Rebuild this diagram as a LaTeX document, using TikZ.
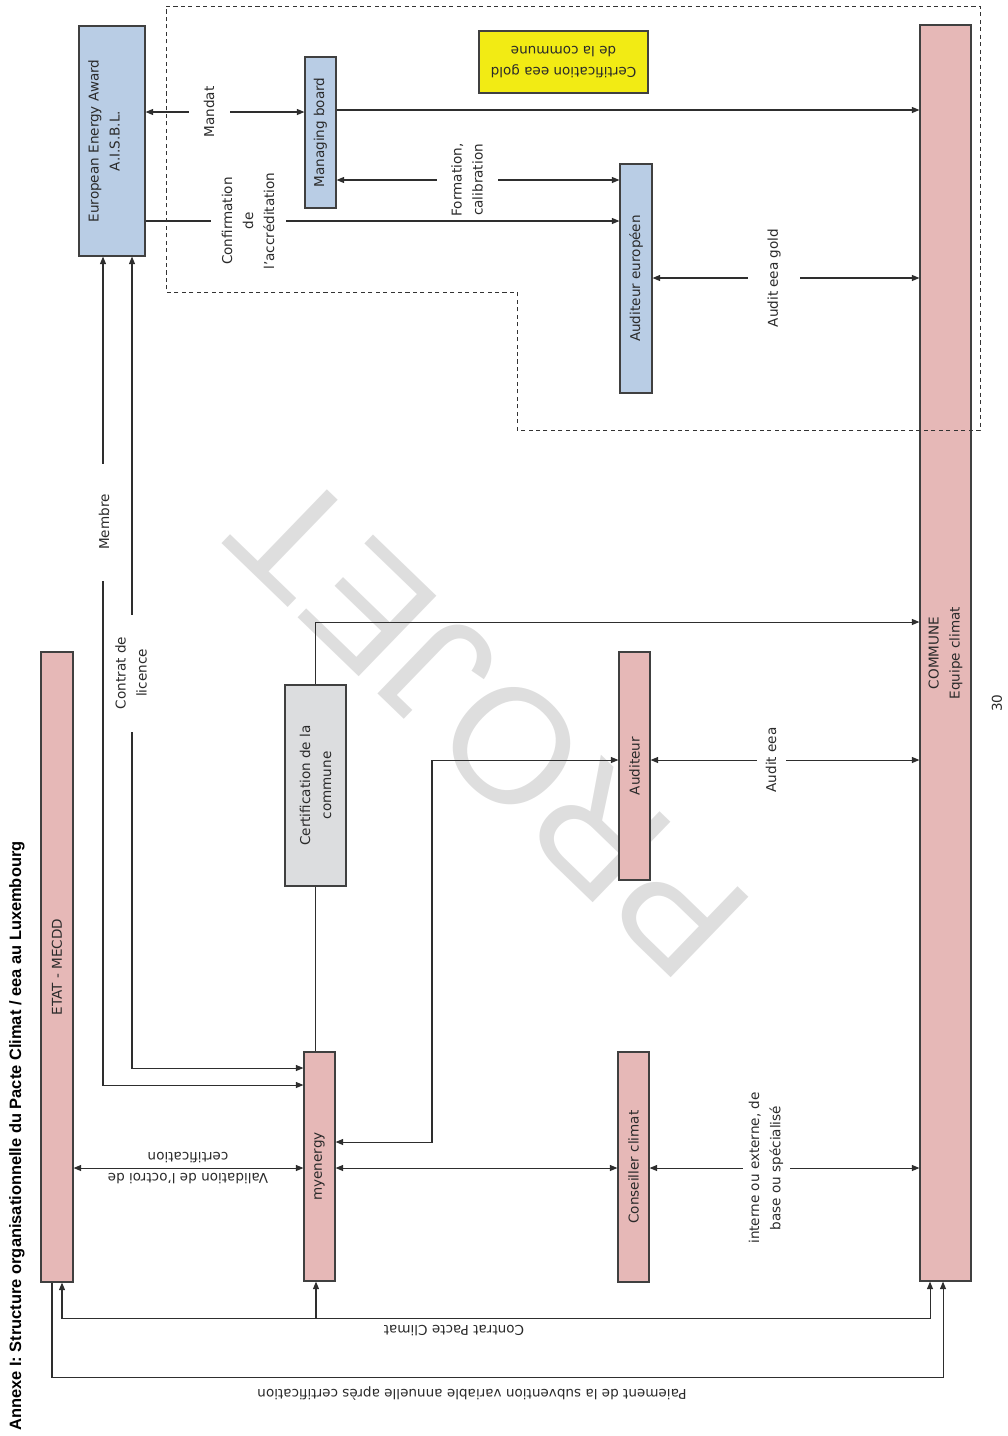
\documentclass[tikz,border=0pt]{standalone}
\usepackage{fontspec}
\setmainfont{DejaVu Sans}
\newfontfamily\titlefont{Liberation Sans}
\newfontfamily\wmfont{Liberation Sans}
\usetikzlibrary{fit,arrows.meta}
\newdimen\pxu \pxu=0.59pt
\definecolor{pinkbox}{HTML}{E6B8B7}
\definecolor{bluebox}{HTML}{B9CDE5}
\definecolor{yellowbox}{HTML}{F2EB14}
\definecolor{graybox}{HTML}{DCDDDF}
\definecolor{edgecol}{HTML}{404040}
\definecolor{wmcol}{HTML}{DEDEDE}
\definecolor{txtcol}{HTML}{2A2A2A}
\begin{document}
\begin{tikzpicture}[x=0.59pt,y=-0.59pt,
  box/.style={draw=edgecol, line width=0.7pt, inner sep=0pt},
  btxt/.style={font=\fontsize{8}{12.4}\selectfont, align=center, text=txtcol, inner sep=0pt},
  lbl/.style={btxt, fill=white, inner xsep=1pt, inner ysep=1pt},
  conn/.style={draw=black!82, line width=0.6pt},
  >={Triangle[length=4.5pt,width=3.6pt]}]
\useasboundingbox (0,0) rectangle (1007,1436);
% watermark
\node[rotate=136, text=wmcol, font=\wmfont\fontsize{96}{96}\selectfont, inner sep=0pt] (wmark) at (489,724) {PROJET};
% boxes
\node[box, fill=pinkbox, fit={(41,652) (73,1282)}] (etat) {};
\node[box, fill=bluebox, fit={(79,26) (145,256)}] (eea) {};
\node[box, fill=bluebox, fit={(305,57) (336,208)}] (mb) {};
\node[box, fill=yellowbox, fit={(479,31) (648,93)}] (gold) {};
\node[box, fill=bluebox, fit={(620,164) (652,393)}] (aeu) {};
\node[box, fill=pinkbox, fit={(920,25) (971,1281)}] (commune) {};
\node[box, fill=graybox, fit={(285,685) (346,886)}] (certif) {};
\node[box, fill=pinkbox, fit={(619,652) (650,880)}] (aud) {};
\node[box, fill=pinkbox, fit={(304,1052) (335,1281)}] (mye) {};
\node[box, fill=pinkbox, fit={(618,1052) (649,1282)}] (cons) {};
% box texts
\node[btxt, rotate=90] (etatt) at (etat.center) {ETAT - MECDD};
\node[btxt, rotate=90] (eeat) at (104,141) {European Energy Award\\A.I.S.B.L.};
\node[btxt, rotate=90] (mbt) at (mb.center) {Managing board};
\node[btxt, rotate=180] (goldt) at (gold.center) {Certification eea gold\\de la commune};
\node[btxt, rotate=90] (aeut) at (aeu.center) {Auditeur européen};
\node[btxt, rotate=90] (communet) at (commune.center) {COMMUNE\\Equipe climat};
\node[btxt, rotate=90] (certift) at (certif.center) {Certification de la\\commune};
\node[btxt, rotate=90] (audt) at (aud.center) {Auditeur};
\node[btxt, rotate=90] (myet) at (mye.center) {myenergy};
\node[btxt, rotate=90] (const) at (cons.center) {Conseiller climat};
% connectors
\draw[conn, <->] (eea.east |- 0,112) -- (mb.west |- 0,112);
\draw[conn, ->] (mb.east |- 0,110) -- (commune.west |- 0,110);
\draw[conn, <->] (mb.east |- 0,180) -- (aeu.west |- 0,180);
\draw[conn, ->] (eea.east |- 0,221) -- (aeu.west |- 0,221);
\draw[conn, <->] (aeu.east |- 0,278) -- (commune.west |- 0,278);
\draw[conn, <->] (eea.south -| 103,0) -- (103,1085) -- (mye.west |- 0,1085);
\draw[conn, <->] (eea.south -| 132,0) -- (132,1068) -- (mye.west |- 0,1068);
\draw[conn] (certif.south) -- (certif.south |- mye.north);
\draw[conn, ->] (certif.north) -- (certif.north |- 0,622) -- (commune.west |- 0,622);
\draw[conn, <->] (mye.east |- 0,1142) -- (432,1142) -- (432,760) -- (aud.west |- 0,760);
\draw[conn, <->] (aud.east |- 0,760) -- (commune.west |- 0,760);
\draw[conn, <->] (etat.east |- 0,1168) -- (mye.west |- 0,1168);
\draw[conn, <->] (mye.east |- 0,1168) -- (cons.west |- 0,1168);
\draw[conn, <->] (cons.east |- 0,1168) -- (commune.west |- 0,1168);
\draw[conn, <->] (etat.south -| 62,0) -- (62,1318) -- (930,1318) -- (commune.south -| 930,0);
\draw[conn, ->] (316,1318) -- (mye.south -| 316,0);
\draw[conn, ->] (etat.south -| 52,0) -- (52,1377) -- (943,1377) -- (commune.south -| 943,0);
% dashed region
\draw[black!80, line width=0.5pt, dash pattern=on 2.4pt off 2pt] (166,6) -- (980,6) -- (980,430) -- (517,430) -- (517,292) -- (166,292) -- cycle;
% labels
\node[lbl, rotate=90, minimum height=41\pxu] (lmandat) at (209,112) {Mandat};
\node[lbl, rotate=90, minimum height=61\pxu] (lform) at (467,180) {Formation,\\calibration};
\node[lbl, rotate=90, minimum height=75\pxu] (lconf) at (248,221) {Confirmation\\de\\l'accréditation};
\node[lbl, rotate=90, minimum height=52\pxu] (lgold) at (774,278) {Audit eea gold};
\node[lbl, rotate=90, minimum width=117\pxu] (lmembre) at (104,522) {Membre};
\node[lbl, rotate=90, minimum width=117\pxu] (llic) at (131,673) {Contrat de\\licence};
\node[lbl, rotate=90, minimum height=29\pxu] (laudit) at (771,760) {Audit eea};
\node[lbl, rotate=90, minimum height=47\pxu] (lint) at (766,1168) {interne ou externe, de\\base ou spécialisé};
\node[btxt, rotate=180] (lvalid) at (188,1168) {Validation de l'octroi de\\certification};
\node[btxt, rotate=180] (lpacte) at (454,1331) {Contrat Pacte Climat};
\node[btxt, rotate=180] (lpaie) at (472,1393) {Paiement de la subvention variable annuelle après certification};
% title and page number
\node[rotate=90, anchor=west, inner sep=0pt, text=black, font=\titlefont\bfseries\fontsize{9.7}{11}\selectfont] (title) at (17,1431) {Annexe I: Structure organisationnelle du Pacte Climat / eea au Luxembourg};
\node[btxt, rotate=90] (pagenum) at (997,703) {30};
\end{tikzpicture}
\end{document}
